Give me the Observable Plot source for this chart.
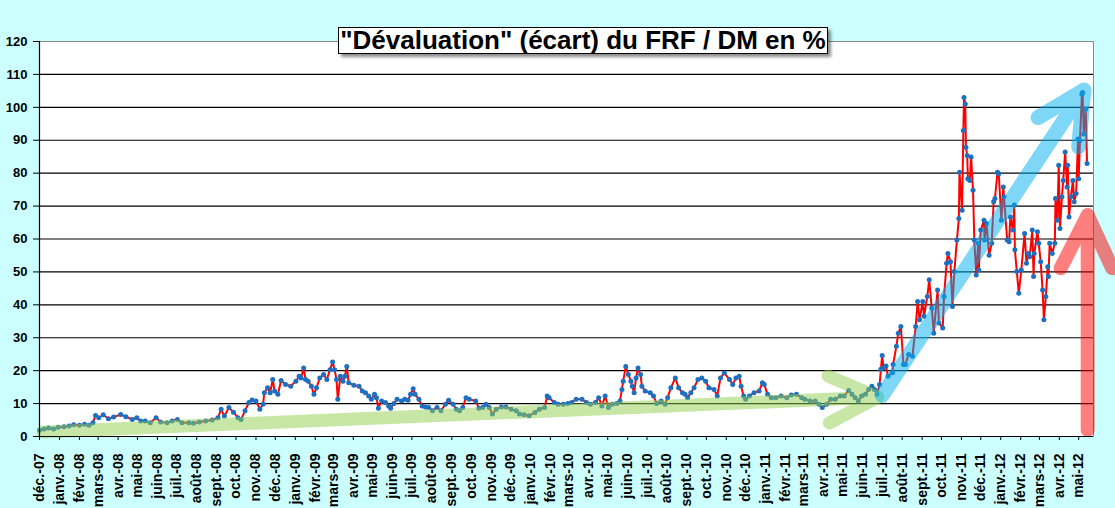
<!DOCTYPE html>
<html><head><meta charset="utf-8">
<script src="https://cdn.jsdelivr.net/npm/d3@7"></script>
<script src="https://cdn.jsdelivr.net/npm/@observablehq/plot@0.6"></script>
<style>
html,body{margin:0;padding:0;background:#CCFFFF;}
#wrap{position:relative;width:1115px;height:508px;overflow:hidden;}
#wrap svg{display:block;}
#title{position:absolute;left:338px;top:27px;width:488px;height:25px;border:1px solid #000;background:#fff;
 box-shadow:3px 3px 3px rgba(0,0,0,.45);font:bold 26px 'Liberation Sans',Arial,sans-serif;line-height:25px;
 text-align:center;white-space:nowrap;color:#000;}
</style></head><body>
<div id="wrap"></div>
<script>
// ---- data ----
const dates = [
"2007-12-01","2007-12-08","2007-12-15","2007-12-23","2007-12-30","2008-01-08","2008-01-16","2008-01-23","2008-02-01","2008-02-09",
"2008-02-16","2008-02-22","2008-02-26","2008-03-02","2008-03-09","2008-03-17","2008-03-25","2008-04-05","2008-04-13","2008-04-23",
"2008-04-30","2008-05-06","2008-05-13","2008-05-21","2008-05-30","2008-06-06","2008-06-16","2008-06-24","2008-07-02","2008-07-09",
"2008-07-20","2008-07-27","2008-08-05","2008-08-15","2008-08-25","2008-09-03","2008-09-08","2008-09-13","2008-09-20","2008-09-27",
"2008-10-04","2008-10-09","2008-10-15","2008-10-21","2008-10-26","2008-11-01","2008-11-07","2008-11-12","2008-11-14","2008-11-19",
"2008-11-23","2008-11-27","2008-11-30","2008-12-05","2008-12-10","2008-12-17","2008-12-25","2009-01-02","2009-01-07","2009-01-10",
"2009-01-14","2009-01-17","2009-01-21","2009-01-26","2009-01-30","2009-02-03","2009-02-08","2009-02-14","2009-02-19","2009-02-24",
"2009-02-28","2009-03-03","2009-03-06","2009-03-08","2009-03-12","2009-03-16","2009-03-19","2009-03-22","2009-03-25","2009-04-02",
"2009-04-10","2009-04-15","2009-04-20","2009-04-25","2009-04-29","2009-05-04","2009-05-07","2009-05-10","2009-05-15","2009-05-21",
"2009-05-26","2009-05-29","2009-06-03","2009-06-08","2009-06-15","2009-06-20","2009-06-25","2009-06-29","2009-07-03","2009-07-06",
"2009-07-12","2009-07-17","2009-07-22","2009-07-27","2009-08-02","2009-08-09","2009-08-15","2009-08-22","2009-08-27","2009-09-03",
"2009-09-08","2009-09-13","2009-09-18","2009-09-23","2009-09-28","2009-10-08","2009-10-13","2009-10-19","2009-10-24","2009-10-29",
"2009-11-03","2009-11-09","2009-11-17","2009-11-24","2009-12-02","2009-12-10","2009-12-15","2009-12-22","2009-12-30","2010-01-08",
"2010-01-15","2010-01-23","2010-01-27","2010-01-30","2010-02-07","2010-02-13","2010-02-21","2010-02-28","2010-03-06","2010-03-13",
"2010-03-22","2010-03-29","2010-04-04","2010-04-12","2010-04-17","2010-04-22","2010-04-27","2010-05-02","2010-05-08","2010-05-15",
"2010-05-20","2010-05-23","2010-05-25","2010-05-29","2010-06-02","2010-06-06","2010-06-08","2010-06-11","2010-06-14","2010-06-17",
"2010-06-21","2010-06-23","2010-06-28","2010-07-06","2010-07-11","2010-07-16","2010-07-23","2010-07-29","2010-08-02","2010-08-07",
"2010-08-14","2010-08-19","2010-08-25","2010-08-29","2010-09-02","2010-09-07","2010-09-12","2010-09-18","2010-09-24","2010-09-30",
"2010-10-05","2010-10-13","2010-10-18","2010-10-23","2010-10-29","2010-11-06","2010-11-11","2010-11-16","2010-11-21","2010-11-24",
"2010-11-28","2010-12-01","2010-12-07","2010-12-14","2010-12-22","2010-12-27","2010-12-30","2011-01-04","2011-01-10","2011-01-17",
"2011-01-25","2011-02-03","2011-02-10","2011-02-18","2011-02-26","2011-03-03","2011-03-11","2011-03-19","2011-03-25","2011-03-30",
"2011-04-06","2011-04-12","2011-04-19","2011-04-27","2011-05-03","2011-05-10","2011-05-15","2011-05-20","2011-05-25","2011-05-30",
"2011-06-05","2011-06-10","2011-06-15","2011-06-19","2011-06-23","2011-06-27","2011-06-29","2011-07-01","2011-07-03","2011-07-07",
"2011-07-10","2011-07-17","2011-07-18","2011-07-23","2011-07-26","2011-07-30","2011-08-03","2011-08-06","2011-08-11","2011-08-17",
"2011-08-22","2011-08-25","2011-08-28","2011-09-02","2011-09-04","2011-09-09","2011-09-12","2011-09-16","2011-09-19","2011-09-25",
"2011-09-27","2011-10-03","2011-10-05","2011-10-09","2011-10-11","2011-10-15","2011-10-18","2011-10-21","2011-10-25","2011-10-28",
"2011-10-29","2011-11-02","2011-11-04","2011-11-05","2011-11-07","2011-11-08","2011-11-10","2011-11-11","2011-11-14","2011-11-16",
"2011-11-19","2011-11-21","2011-11-24","2011-11-27","2011-11-28","2011-12-01","2011-12-06","2011-12-07","2011-12-10","2011-12-14",
"2011-12-18","2011-12-21","2011-12-23","2011-12-27","2011-12-29","2012-01-02","2012-01-05","2012-01-06","2012-01-11","2012-01-14",
"2012-01-16","2012-01-20","2012-01-22","2012-01-23","2012-01-26","2012-01-29","2012-02-02","2012-02-07","2012-02-10","2012-02-13",
"2012-02-15","2012-02-19","2012-02-21","2012-02-22","2012-02-27","2012-02-29","2012-03-03","2012-03-06","2012-03-08","2012-03-11",
"2012-03-14","2012-03-15","2012-03-17","2012-03-21","2012-03-25","2012-03-26","2012-03-29","2012-03-31","2012-04-02","2012-04-05",
"2012-04-07","2012-04-10","2012-04-13","2012-04-14","2012-04-16","2012-04-19","2012-04-22","2012-04-24","2012-04-27","2012-04-30",
"2012-05-01","2012-05-03","2012-05-06","2012-05-07","2012-05-09","2012-05-12","2012-05-14"
];
const values = [
1.9,2.3,2.6,2.3,2.8,3.0,3.2,3.6,3.4,3.7,
3.4,4.2,6.4,5.7,6.6,5.4,5.9,6.7,6.0,5.2,
5.7,4.7,4.7,4.2,5.7,4.4,4.2,4.7,5.2,4.2,
4.2,4.0,4.4,4.7,5.0,5.7,8.3,6.2,8.8,7.4,
5.7,5.2,7.8,10.3,11.1,10.8,8.3,9.8,13.3,14.8,
13.3,17.3,13.8,12.8,17.0,15.8,15.3,16.8,18.3,17.8,
20.8,17.3,16.8,15.3,12.8,14.8,17.8,18.8,17.3,20.3,
22.6,20.3,17.3,11.3,18.3,16.8,18.3,21.3,16.3,15.6,
15.3,13.8,13.3,12.3,11.3,12.8,11.8,8.6,10.8,10.3,
9.3,8.6,10.0,11.3,10.8,11.3,11.0,12.8,14.5,12.8,
11.3,9.3,9.0,8.8,7.8,8.8,7.8,9.8,11.0,9.8,
8.3,7.8,8.8,11.8,11.3,10.8,8.6,8.8,9.8,8.8,
6.8,8.3,9.0,9.0,8.3,7.8,6.8,6.6,6.3,7.3,
8.3,8.8,12.3,11.8,10.3,9.8,9.8,10.0,10.3,11.3,
11.3,10.3,9.8,10.3,11.8,9.3,12.3,8.8,9.8,10.0,
10.8,14.3,16.8,21.3,18.8,16.8,15.3,13.3,17.8,20.8,
18.8,15.3,13.8,13.3,12.3,10.0,10.8,9.8,11.8,14.8,
17.8,14.8,13.3,12.8,11.8,13.3,14.8,17.3,17.8,16.8,
14.8,14.3,12.3,17.8,19.3,17.3,15.8,17.8,18.3,15.3,
12.3,11.3,12.3,13.3,13.8,16.3,15.8,12.8,11.8,11.8,
12.3,11.8,12.6,12.8,11.8,11.3,10.8,10.8,9.8,8.8,
9.8,11.3,11.3,12.3,12.3,14.0,12.8,11.8,10.8,12.3,
12.8,14.3,15.3,14.3,12.8,15.8,20.4,24.6,20.9,21.4,
18.3,19.4,21.9,27.4,31.4,33.4,21.9,21.9,24.9,24.4,
33.4,41.0,35.5,41.0,36.5,42.5,47.6,39.0,31.4,44.5,
34.5,33.0,42.5,52.6,55.6,53.1,39.5,50.1,59.7,66.2,
80.3,68.7,93.0,103,101,87.9,85.4,78.3,77.8,84.9,
74.8,59.7,49.1,58.7,50.6,62.7,65.7,59.7,64.7,55.1,
58.7,71.3,72.3,80.3,79.8,65.7,75.8,72.8,59.7,59.2,
66.7,62.7,70.3,56.7,50.1,43.5,50.6,61.7,52.6,55.6,
54.6,62.7,48.6,55.6,62.2,58.7,53.1,44.5,35.5,42.5,
51.6,48.6,58.7,55.6,58.7,72.3,65.7,82.4,63.2,72.8,
77.8,86.4,75.8,82.4,66.7,72.8,77.8,71.3,73.8,90.4,
78.3,89.9,104,104.5,91.9,99.5,82.9
];
const yTicks = [0,10,20,30,40,50,60,70,80,90,100,110,120];
const monthNames = ["janv.","févr.","mars","avr.","mai","juin","juil.","août","sept.","oct.","nov.","déc."];
const xStart = "2007-12-01", xEnd = "2012-05-24";
// annotation arrows: [segment, date, value]
const greenArrow = [
 ["shaft","2007-12-07",1.4],["shaft","2011-06-24",11.9],
 ["arm1","2011-04-08",18.4],["arm1","2011-06-24",11.9],
 ["arm2","2011-04-10",4.1],["arm2","2011-06-24",11.9]
];
const blueArrow = [
 ["shaft","2011-07-01",12.5],["shaft","2012-05-09",105.2],
 ["arm1","2012-02-28",96.9],["arm1","2012-05-09",105.2],
 ["arm2","2012-05-01",88.0],["arm2","2012-05-09",105.2]
];
const redArrow = [
 ["shaft","2012-05-15",2.0],["shaft","2012-05-15",67.2],
 ["arm1","2012-04-03",51.1],["arm1","2012-05-15",67.2],
 ["arm2","2012-06-22",51.1],["arm2","2012-05-15",67.2]
];
const titleText = "\"Dévaluation\" (écart) du FRF / DM en %";

// ---- build ----
const data = dates.map((d,i)=>({date:new Date(d), value:values[i]}));
const toRows = a => a.map(([seg,d,v])=>({seg, date:new Date(d), value:v}));
const monthTicks = d3.utcMonth.range(new Date("2007-12-01"), new Date("2012-05-02"));
const fmt = d => monthNames[d.getUTCMonth()] + "-" + String(d.getUTCFullYear()).slice(2);
const arrowMark = (rows, color, w) => Plot.line(toRows(rows), {
  x:"date", y:"value", z:"seg", stroke:color, strokeWidth:w,
  strokeLinecap:"round", strokeLinejoin:"round"
});

const svg = Plot.plot({
  width:1115, height:508,
  marginLeft:39, marginRight:22, marginTop:41, marginBottom:72,
  style:{background:"transparent", fontFamily:"'Liberation Sans', Arial, sans-serif", fontWeight:"bold", color:"#000", overflow:"visible"},
  x:{type:"utc", domain:[new Date(xStart), new Date(xEnd)]},
  y:{domain:[0,120]},
  marks:[
    Plot.frame({fill:"white", stroke:"none"}),
    Plot.ruleY(yTicks.filter(v=>v>0 && v<120), {stroke:"black", strokeWidth:1.2}),
    Plot.frame({stroke:"#8a8a8a"}),
    Plot.line(data, {x:"date", y:"value", stroke:"red", strokeWidth:2}),
    Plot.dot(data, {x:"date", y:"value", r:2.5, fill:"#1f6fc1", stroke:"none"}),
    arrowMark(greenArrow, "#92D050", 13),
    arrowMark(blueArrow, "#00B0F0", 15),
    arrowMark(redArrow, "#FF0000", 14),
    Plot.ruleY([0], {stroke:"black", strokeWidth:1.2}),
    Plot.ruleX([new Date(xStart)], {stroke:"black", strokeWidth:1.2}),
    Plot.axisY({ticks:yTicks, tickSize:6, tickPadding:6, fontSize:13, fontWeight:"bold", label:null}),
    Plot.axisX({ticks:monthTicks, tickFormat:fmt, tickRotate:-90, tickSize:4, tickPadding:13, fontSize:14, fontWeight:"bold", label:null})
  ]
});
// the last three line marks are the translucent arrows: fade each as one group
const lineGroups = svg.querySelectorAll('g[aria-label="line"]');
Array.from(lineGroups).slice(-3).forEach(g => g.setAttribute("opacity","0.5"));
const wrap = document.getElementById("wrap");
wrap.appendChild(svg);
const t = document.createElement("div");
t.id = "title"; t.textContent = titleText;
wrap.appendChild(t);
</script>
</body></html>
